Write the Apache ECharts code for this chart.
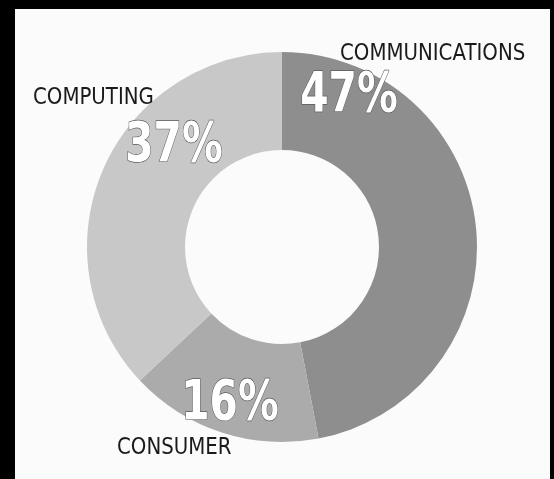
<!DOCTYPE html>
<html>
<head>
<meta charset="utf-8">
<script src="https://cdn.jsdelivr.net/npm/echarts@6/dist/echarts.min.js"></script>
<style>
  html, body { margin: 0; padding: 0; background: #000; }
  #panel { position: absolute; left: 15px; top: 9px; width: 535px; height: 470px; background: #fbfbfb; }
  #main { position: absolute; left: 0; top: 0; width: 554px; height: 479px; }
</style>
</head>
<body>
<div id="panel"></div>
<div id="main"></div>
<script>
const categories = ['COMMUNICATIONS', 'CONSUMER', 'COMPUTING']
const shares = [47, 16, 37]
const sliceColors = ['#8e8e8e', '#ababab', '#c8c8c8']

// where each category's name and percent sit
const namePos = [[340, 54], [117, 448], [33, 98]]
const pctPos = [[349, 97], [230, 405], [174, 147]]

const chart = echarts.init(document.getElementById('main'))

const face = "'Liberation Sans Narrow', 'DejaVu Sans', sans-serif"

const graphics = []
categories.forEach((name, i) => {
  graphics.push({
    type: 'text',
    x: namePos[i][0],
    y: namePos[i][1],
    scaleX: 0.86,
    z: 10,
    style: {
      text: name,
      fill: '#1a1a1a',
      font: '23px ' + face,
      align: 'left',
      verticalAlign: 'middle',
    },
  })
  graphics.push({
    type: 'text',
    x: pctPos[i][0],
    y: pctPos[i][1],
    scaleX: 0.74,
    z: 10,
    style: {
      text: shares[i] + '%',
      fill: '#ffffff',
      stroke: '#5a5a5a',
      lineWidth: 1.3,
      font: 'bold 55px ' + face,
      align: 'center',
      verticalAlign: 'middle',
    },
  })
})

chart.setOption({
  backgroundColor: 'transparent',
  animation: false,
  graphic: graphics,
  series: [
    {
      type: 'pie',
      center: [282, 247],
      radius: [97, 195],
      startAngle: 90,
      clockwise: true,
      label: { show: false },
      labelLine: { show: false },
      emphasis: { disabled: true },
      itemStyle: { borderWidth: 0 },
      data: categories.map((name, i) => ({
        name: name,
        value: shares[i],
        itemStyle: { color: sliceColors[i] },
      })),
    },
  ],
})
</script>
</body>
</html>
